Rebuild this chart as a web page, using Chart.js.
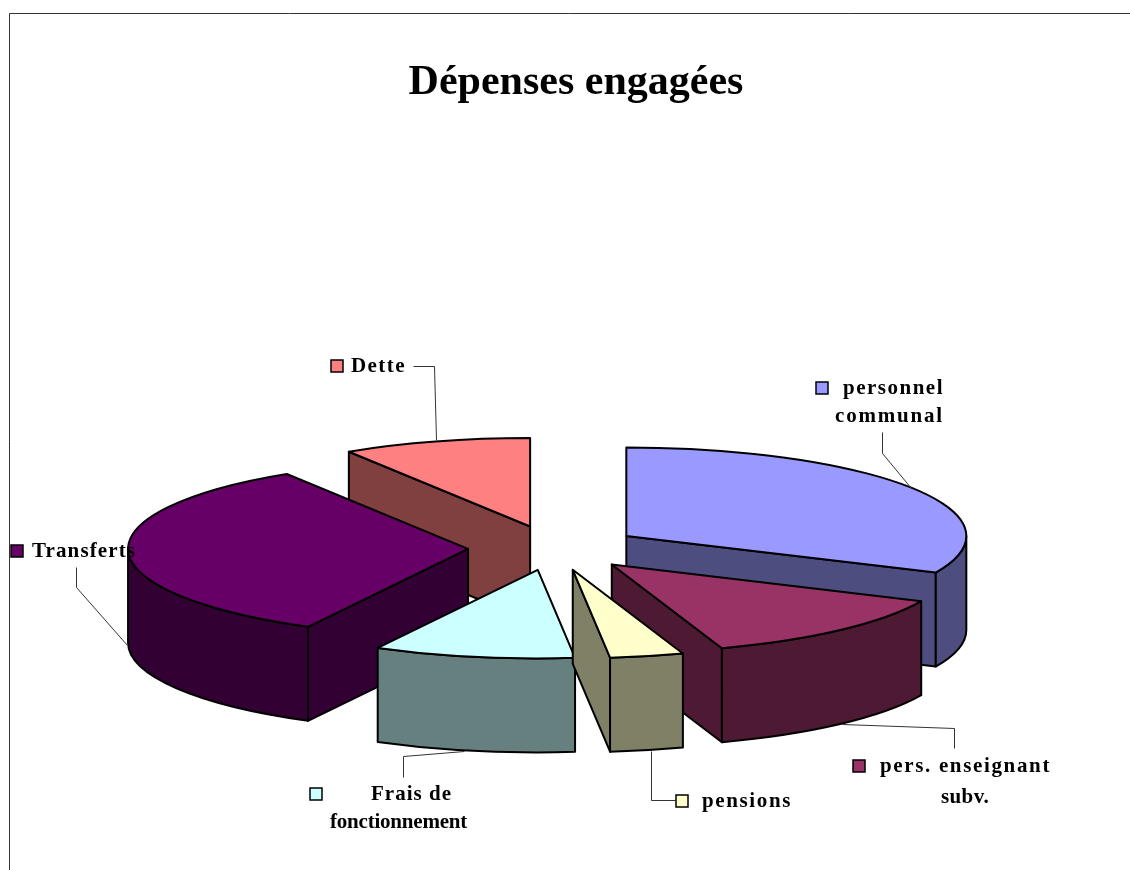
<!DOCTYPE html>
<html>
<head>
<meta charset="utf-8">
<style>html,body{margin:0;padding:0;background:#fff;overflow:hidden}canvas{display:block}</style>
<script src="https://cdn.jsdelivr.net/npm/chart.js@4/dist/chart.umd.min.js"></script>
</head>
<body>
<canvas id="c" width="1130" height="870"></canvas>
<script>
const titleText = 'Dépenses engagées';
const categories = ['personnel communal','pers. enseignant subv.','pensions','Frais de fonctionnement','Transferts','Dette'];
const values = [31.8, 12.95, 3.5, 9.55, 33.25, 8.95];
const topColors = ['#9999FF','#993366','#FFFFCC','#CCFFFF','#660066','#FF8080'];
const wallColors = ['#4D4D80','#4D1933','#808066','#668080','#330033','#804040'];

// view settings of the tilted pie
const SQUASH = 0.26, DEPTH = 94, EXPLODE = 86, RADIUS = 340;
const paintOrder = [5,0,4,1,3,2];

// label layout: key square, text lines [text, x, centre y, width], leader polyline
const labelLayout = [
  {key:[816,382], lines:[['personnel',843,389,101],['communal',835,417,109]], leader:[[882,432],[882,453],[911,488]]},
  {key:[853,760], lines:[['pers. enseignant',880,767,171],['subv.',941,798,48]], leader:[[842,724],[954,728],[954,748]]},
  {key:[676,795], lines:[['pensions',702,802,90]], leader:[[651,751],[651,800],[675,800]]},
  {key:[310,788], lines:[['Frais de',371,795,81],['fonctionnement',330,823,137]], leader:[[464,751],[403,756],[403,777]]},
  {key:[11,545], lines:[['Transferts',32,552,104]], leader:[[76,567],[76,587],[127,645]]},
  {key:[331,360], lines:[['Dette',351,367,55]], leader:[[413,366],[434,366],[436,440]]}
];

const pie3d = {
  id:'pie3d',
  beforeDatasetDraw(){ return false; },
  afterDatasetsDraw(chart){
    const ctx = chart.ctx;
    const arcs = chart.getDatasetMeta(0).data;
    ctx.save();
    ctx.lineJoin = 'round';
    ctx.strokeStyle = '#000';
    ctx.lineWidth = 2;
    for (const i of paintOrder) {
      const arc = arcs[i];
      const {x,y,startAngle:s,endAngle:e,outerRadius:R} = arc.getProps(['x','y','startAngle','endAngle','outerRadius'],true);
      const mid = (s+e)/2;
      const ax = x + Math.cos(mid)*EXPLODE;
      const ay = y + Math.sin(mid)*EXPLODE*SQUASH;
      const pt = a => [ax+Math.cos(a)*R, ay+Math.sin(a)*R*SQUASH];
      ctx.fillStyle = wallColors[i];
      const quad = (p) => {
        ctx.beginPath(); ctx.moveTo(ax,ay); ctx.lineTo(p[0],p[1]);
        ctx.lineTo(p[0],p[1]+DEPTH); ctx.lineTo(ax,ay+DEPTH); ctx.closePath();
        ctx.fill(); ctx.stroke();
      };
      const ps = pt(s), pe = pt(e);
      if (ps[0] < ax - 0.5) quad(ps);
      if (pe[0] > ax + 0.5) quad(pe);
      const a0 = Math.max(s,0), a1 = Math.min(e,Math.PI);
      if (a1 > a0) {
        ctx.beginPath();
        ctx.ellipse(ax,ay,R,R*SQUASH,0,a0,a1);
        ctx.ellipse(ax,ay+DEPTH,R,R*SQUASH,0,a1,a0,true);
        ctx.closePath();
        ctx.fill(); ctx.stroke();
      }
      // top face: the library's own arc element, tilted
      ctx.save();
      ctx.translate(ax,ay);
      ctx.scale(1,SQUASH);
      ctx.translate(-x,-y);
      arc.draw(ctx);
      ctx.restore();
      ctx.beginPath();
      ctx.moveTo(ax,ay);
      ctx.ellipse(ax,ay,R,R*SQUASH,0,s,e);
      ctx.closePath();
      ctx.stroke();
    }
    ctx.restore();
  },
  afterDraw(chart){
    const ctx = chart.ctx;
    ctx.save();
    // frame
    ctx.strokeStyle = '#333'; ctx.lineWidth = 1;
    ctx.beginPath(); ctx.moveTo(9.5,870); ctx.lineTo(9.5,13.5); ctx.lineTo(1130,13.5); ctx.stroke();
    // title
    ctx.fillStyle = '#000';
    ctx.textBaseline = 'middle'; ctx.textAlign = 'center';
    ctx.font = 'bold 42px "Liberation Serif"';
    ctx.fillText(titleText,576,83);
    // labels
    ctx.textAlign = 'left';
    ctx.font = 'bold 21px "Liberation Serif"';
    labelLayout.forEach((l,i)=>{
      ctx.strokeStyle = '#333'; ctx.lineWidth = 1;
      ctx.beginPath();
      l.leader.forEach((p,j)=> j ? ctx.lineTo(p[0]+.5,p[1]+.5) : ctx.moveTo(p[0]+.5,p[1]+.5));
      ctx.stroke();
      ctx.fillStyle = topColors[i];
      ctx.strokeStyle = '#000'; ctx.lineWidth = 1.5;
      ctx.fillRect(l.key[0],l.key[1],12,12);
      ctx.strokeRect(l.key[0],l.key[1],12,12);
      ctx.fillStyle = '#000';
      l.lines.forEach(t=>{
        ctx.letterSpacing = '0px';
        const w = ctx.measureText(t[0]).width;
        ctx.letterSpacing = ((t[3]-w)/t[0].length).toFixed(2)+'px';
        ctx.fillText(t[0],t[1],t[2]);
      });
    });
    ctx.restore();
  }
};

new Chart(document.getElementById('c'),{
  type:'pie',
  data:{labels:categories,datasets:[{data:values,backgroundColor:topColors,borderWidth:0}]},
  options:{
    responsive:false,animation:false,radius:RADIUS,
    layout:{padding:{top:226,left:0,right:22,bottom:0}},
    plugins:{legend:{display:false},tooltip:{enabled:false},title:{display:false}}
  },
  plugins:[pie3d]
});
</script>
</body>
</html>
